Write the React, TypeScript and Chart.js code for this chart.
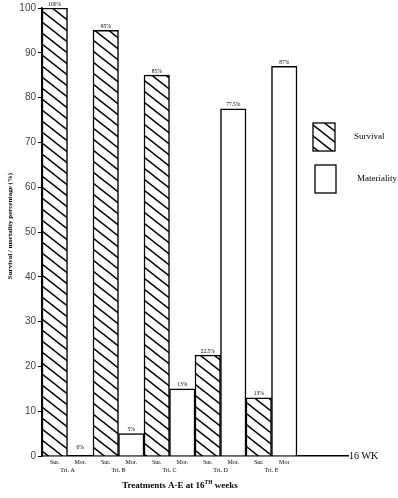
import React, { useEffect, useRef } from "react";
import { Chart, registerables } from "chart.js";

Chart.register(...registerables);

const treatments = ["Tri. A", "Tri. B", "Tri. C", "Tri. D", "Tri. E"];
const survival = [100, 95, 85, 22.5, 13];
const mortality = [0, 5, 15, 77.5, 87];
const survivalText = ["100%", "95%", "85%", "22.5%", "13%"];
const mortalityText = ["0%", "5%", "13%", "77.5%", "87%"];
const survivalTick = "Sur.";
const mortalityTicks = ["Mor.", "Mor.", "Mor.", "Mor.", "Mor"];
const yTicks = [0, 10, 20, 30, 40, 50, 60, 70, 80, 90, 100];
const extraSlots = 2;

function makeHatch(): CanvasPattern | string {
  const w = 14;
  const h = 11;
  const c = document.createElement("canvas");
  c.width = w;
  c.height = h;
  const g = c.getContext("2d");
  if (!g) return "#fff";
  g.fillStyle = "#fff";
  g.fillRect(0, 0, w, h);
  g.strokeStyle = "#000";
  g.lineWidth = 1.4;
  for (const k of [-1, 0, 1]) {
    g.beginPath();
    g.moveTo(-w, -h + k * h);
    g.lineTo(2 * w, 2 * h + k * h);
    g.stroke();
  }
  const p = g.createPattern(c, "repeat");
  return p || "#fff";
}

export default function App() {
  const ref = useRef<HTMLCanvasElement | null>(null);

  useEffect(() => {
    document.body.style.margin = "0";
    const canvas = ref.current;
    if (!canvas) return;
    const hatch = makeHatch();

    const labels: string[] = [];
    const survData: (number | null)[] = [];
    const mortData: (number | null)[] = [];
    treatments.forEach((t, i) => {
      labels.push(survivalTick + " " + t);
      labels.push(mortalityTicks[i] + " " + t);
      survData.push(survival[i], null);
      mortData.push(null, mortality[i]);
    });
    for (let i = 0; i < extraSlots; i++) {
      labels.push("");
      survData.push(null);
      mortData.push(null);
    }

    const serif = "'Liberation Serif', 'Times New Roman', serif";

    const textPlugin = {
      id: "extraText",
      afterDatasetsDraw(chart: any) {
        const ctx = chart.ctx;
        const xs = chart.scales.x;
        const area = chart.chartArea;
        ctx.save();
        ctx.fillStyle = "#000";
        // value labels
        const m0 = chart.getDatasetMeta(0);
        const m1 = chart.getDatasetMeta(1);
        ctx.font = `5.5px ${serif}`;
        ctx.textAlign = "center";
        ctx.textBaseline = "bottom";
        treatments.forEach((_, i) => {
          const e0 = m0.data[i * 2];
          const e1 = m1.data[i * 2 + 1];
          if (e0) ctx.fillText(survivalText[i], e0.x, e0.y - 1);
          if (e1) {
            const dy = mortality[i] === 0 ? 6 : 1;
            ctx.fillText(mortalityText[i], e1.x, e1.y - dy);
          }
        });
        // x tick labels
        ctx.font = `6px ${serif}`;
        ctx.textBaseline = "middle";
        treatments.forEach((t, i) => {
          const xa = xs.getPixelForValue(i * 2);
          const xb = xs.getPixelForValue(i * 2 + 1);
          ctx.fillText(survivalTick, xa, area.bottom + 6);
          ctx.fillText(mortalityTicks[i], xb, area.bottom + 6);
          ctx.fillText(t, (xa + xb) / 2, area.bottom + 14);
        });
        // 16 WK
        ctx.font = `10px ${serif}`;
        ctx.textAlign = "left";
        ctx.fillText("16 WK", area.right + 1, area.bottom);
        // x title with superscript
        ctx.font = `bold 9px ${serif}`;
        const a = "Treatments A-E at 16";
        const sup = "TH";
        const b = " weeks";
        const wa = ctx.measureText(a).width;
        const wb = ctx.measureText(b).width;
        ctx.font = `bold 5.5px ${serif}`;
        const ws = ctx.measureText(sup).width;
        const total = wa + ws + wb;
        let x = 180 - total / 2;
        const y = 488;
        ctx.textBaseline = "alphabetic";
        ctx.font = `bold 9px ${serif}`;
        ctx.fillText(a, x, y);
        x += wa;
        ctx.font = `bold 5.5px ${serif}`;
        ctx.fillText(sup, x, y - 4);
        x += ws;
        ctx.font = `bold 9px ${serif}`;
        ctx.fillText(b, x, y);
        // y title
        ctx.save();
        ctx.translate(10, 226);
        ctx.rotate(-Math.PI / 2);
        ctx.font = `bold 7px ${serif}`;
        ctx.textAlign = "center";
        ctx.textBaseline = "middle";
        ctx.fillText("Survival / mortality percentage (%)", 0, 0);
        ctx.restore();
        // legend
        const ds = chart.data.datasets;
        const boxes = [
          { x: 313, y: 123, w: 22, h: 28, tx: 354, ty: 137 },
          { x: 315, y: 165, w: 21, h: 28, tx: 357, ty: 179 },
        ];
        ctx.font = `9px ${serif}`;
        ctx.textAlign = "left";
        ctx.textBaseline = "middle";
        boxes.forEach((bx, i) => {
          ctx.fillStyle = ds[i].backgroundColor;
          ctx.fillRect(bx.x, bx.y, bx.w, bx.h);
          ctx.strokeStyle = "#000";
          ctx.lineWidth = 1.3;
          ctx.strokeRect(bx.x, bx.y, bx.w, bx.h);
          ctx.fillStyle = "#000";
          ctx.fillText(ds[i].label, bx.tx, bx.ty);
        });
        ctx.restore();
      },
    };

    const chart = new Chart(canvas, {
      type: "bar",
      data: {
        labels,
        datasets: [
          {
            label: "Survival",
            data: survData,
            backgroundColor: hatch as any,
            borderColor: "#000",
            borderWidth: 1.5,
            grouped: false,
            categoryPercentage: 1,
            barPercentage: 1,
          },
          {
            label: "Materiality",
            data: mortData,
            backgroundColor: "#fff",
            borderColor: "#000",
            borderWidth: 1.5,
            grouped: false,
            categoryPercentage: 1,
            barPercentage: 1,
          },
        ],
      },
      options: {
        responsive: false,
        animation: false,
        layout: { padding: { top: 6, right: 50, bottom: 0, left: 0 } },
        plugins: {
          legend: { display: false },
          tooltip: { enabled: false },
        },
        scales: {
          x: {
            ticks: { display: false },
            grid: { display: false },
            border: { display: true, color: "#000", width: 1.5 },
            afterFit: (s: any) => {
              s.height = 42;
            },
          },
          y: {
            min: 0,
            max: 100,
            afterBuildTicks: (s: any) => {
              s.ticks = yTicks.map((v) => ({ value: v }));
            },
            ticks: {
              color: "#444",
              font: { family: "'Liberation Sans', Arial, sans-serif", size: 10 },
              padding: 2,
            },
            grid: {
              drawOnChartArea: false,
              drawTicks: true,
              tickLength: 4,
              color: "#000",
            },
            border: { display: true, color: "#000", width: 1.5 },
            afterFit: (s: any) => {
              s.width = 42;
            },
          },
        },
      },
      plugins: [textPlugin],
    });
    return () => chart.destroy();
  }, []);

  return (
    <div style={{ position: "fixed", left: 0, top: 0, width: 398, height: 498, background: "#fff" }}>
      <canvas ref={ref} width={398} height={498} />
    </div>
  );
}
